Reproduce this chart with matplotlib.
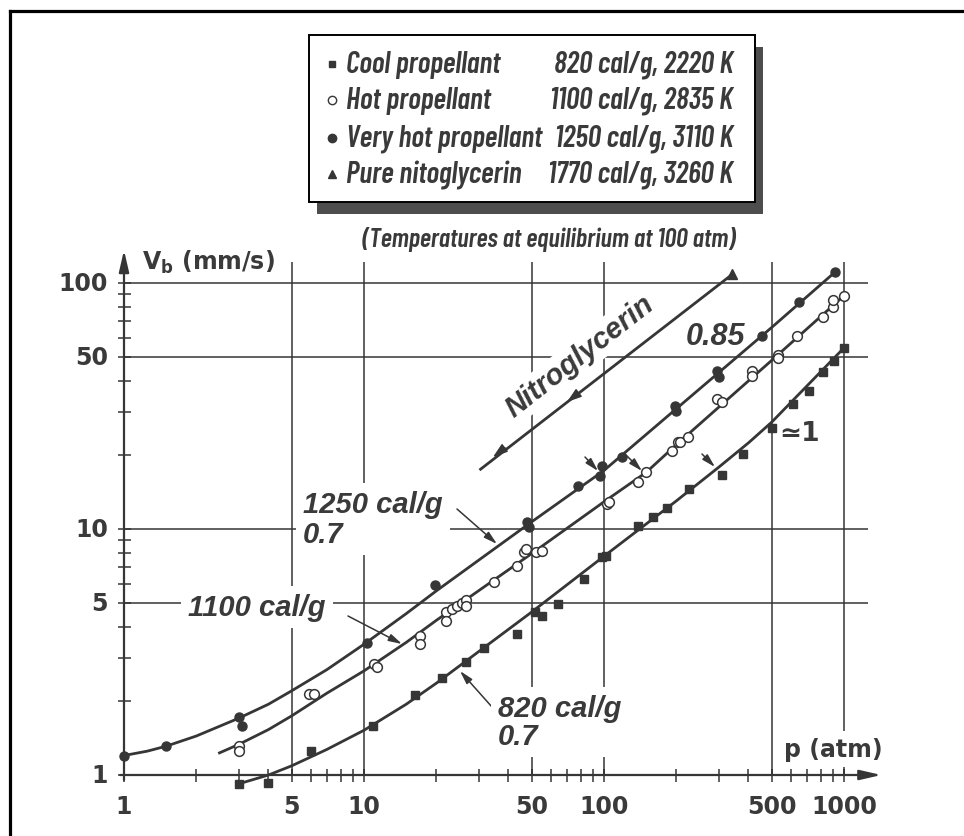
import matplotlib
matplotlib.use('Agg')
import matplotlib.pyplot as plt
from matplotlib import font_manager as fm
from matplotlib.patches import Rectangle
from matplotlib.lines import Line2D

# ---------------- data ----------------
very_hot_p = [1.0, 1.5, 3.0, 3.1, 10.3, 19.8, 48, 48.5, 78, 96, 98, 119, 197, 200, 296, 300, 456, 648, 915]
very_hot_v = [1.19, 1.31, 1.72, 1.58, 3.45, 5.9, 10.7, 10.2, 14.9, 16.4, 18.0, 19.6, 31.6, 30.2, 43.7, 41.5, 61, 83.7, 111]

hot_p = [3.0, 3.0, 5.9, 6.2, 11.0, 11.3, 17.1, 17.1, 21.9, 21.9, 23.2, 24.5, 25.6, 26.6, 26.6, 34.8, 43.3,
         46.5, 47.5, 52, 55, 103, 105, 138, 150, 192, 203, 207, 224, 296, 310, 415, 415, 531, 531, 640, 815,
         898, 898, 1000]
hot_v = [1.31, 1.25, 2.13, 2.13, 2.82, 2.75, 3.67, 3.40, 4.60, 4.23, 4.73, 4.85, 5.0, 5.14, 4.87, 6.08, 7.07,
         8.05, 8.3, 8.1, 8.15, 12.6, 12.9, 15.5, 17.1, 20.7, 22.5, 22.6, 23.7, 33.7, 32.8, 43.7, 41.9, 50.9, 49.6,
         61, 72.6, 80, 85, 88.8]

cool_p = [3.0, 4.0, 6.0, 10.9, 16.3, 21.2, 26.6, 31.5, 43.3, 51.5, 55, 64.3, 82.5, 98, 101.5, 139, 160, 183,
          226, 310, 381, 500, 612, 714, 815, 907, 1000]
cool_v = [0.92, 0.93, 1.25, 1.58, 2.11, 2.48, 2.88, 3.28, 3.74, 4.6, 4.43, 4.95, 6.25, 7.7, 7.8, 10.3, 11.2,
          12.2, 14.5, 16.6, 20.2, 25.8, 32.2, 36.3, 43.4, 48, 54.5]

nitro_p = [343]
nitro_v = [108.6]

# fitted curves
very_hot_curve_p = [1, 1.25, 1.5, 2, 3, 4, 5, 7, 10, 15, 20, 30, 50, 100, 200, 500, 920]
very_hot_curve_v = [1.2, 1.25, 1.31, 1.44, 1.70, 1.94, 2.2, 2.68, 3.4, 4.53, 5.6, 7.46, 10.7, 17.3, 30.8, 66, 111]
hot_curve_p = [2.5, 3, 4, 5, 7, 10, 15, 20, 50, 100, 150, 200, 500, 1000]
hot_curve_v = [1.23, 1.33, 1.53, 1.74, 2.15, 2.65, 3.46, 4.25, 7.95, 12.9, 17.0, 22.0, 48.5, 88.8]
cool_curve_p = [3.0, 4, 5, 7, 10, 15, 20, 50, 100, 200, 300, 400, 500, 1000]
cool_curve_v = [0.92, 1.0, 1.09, 1.27, 1.52, 1.94, 2.36, 4.6, 7.75, 13.0, 17.8, 22.4, 27.2, 54.5]
nitro_line_p = [30.6, 343]
nitro_line_v = [17.5, 108.6]

x_grid = [5, 10, 50, 100, 500, 1000]
y_grid = [5, 10, 50, 100]
x_major = [1, 5, 10, 50, 100, 500, 1000]
x_labels = ['1', '5', '10', '50', '100', '500', '1000']
y_major = [1, 5, 10, 50, 100]
y_labels = ['1', '5', '10', '50', '100']
minor = [2, 3, 4, 6, 7, 8, 9, 20, 30, 40, 60, 70, 80, 90, 200, 300, 400, 600, 700, 800, 900]
y_minor = [2, 3, 4, 6, 7, 8, 9, 20, 30, 40, 60, 70, 80, 90]

legend_names = ['Cool propellant', 'Hot propellant', 'Very hot propellant', 'Pure nitoglycerin']
legend_values = ['820 cal/g, 2220 K', '1100 cal/g, 2835 K', '1250 cal/g, 3110 K', '1770 cal/g, 3260 K']

# ---------------- figure ----------------
W, H = 964, 837
names = {f.name for f in fm.fontManager.ttflist}
NARROW = 'Barlow Condensed' if 'Barlow Condensed' in names else 'Liberation Sans'
SANS = 'Liberation Sans'
C = '#363636'
TC = '#3a3a3a'

fig = plt.figure(figsize=(W / 100, H / 100), dpi=100)
ax = fig.add_axes([0, 0, 1, 1])
ax.set_xscale('log')
ax.set_yscale('log')
X0, XD, Y0, YD = 124, 240, 776, 246
ax.set_xlim(10 ** (-X0 / XD), 10 ** ((W - X0) / XD))
ax.set_ylim(10 ** ((Y0 - H) / YD), 10 ** (Y0 / YD))
ax.axis('off')


def fp(px, py):
    return (px / W, 1 - py / H)


def pix(px, py):
    return (px, H - py)


# page frame (left and top)
fig.add_artist(Line2D([10 / W, 10 / W], [0, 1 - 12 / H], color='black', lw=2.3, transform=fig.transFigure))
fig.add_artist(Line2D([10 / W, 1], [1 - 12 / H, 1 - 12 / H], color='black', lw=2.3, transform=fig.transFigure))

# grid
ax.hlines(y_grid, 1, 1260, color=C, lw=1.1, zorder=1)
ax.vlines(x_grid, 1, 122, color=C, lw=1.1, zorder=1)

# axes with arrows
ax.annotate('', xy=(1430, 1), xytext=(0.965, 1),
            arrowprops=dict(arrowstyle='-|>,head_length=1.3,head_width=0.3', lw=1.6, color=C,
                            shrinkA=0, shrinkB=0), zorder=2)
ax.annotate('', xy=(1, 136), xytext=(1, 0.955),
            arrowprops=dict(arrowstyle='-|>,head_length=1.3,head_width=0.3', lw=1.6, color=C,
                            shrinkA=0, shrinkB=0), zorder=2)
tlo, thi = 10 ** (-7 / YD), 10 ** (6 / YD)
ax.vlines(x_major + minor, tlo, thi, color=C, lw=1.1, zorder=2)
ax.vlines(x_grid, 1, thi, color=C, lw=1.1, zorder=2)
ylo, yhi = 10 ** (-6 / XD), 10 ** (7 / XD)
ax.hlines(y_major + y_minor, ylo, yhi, color=C, lw=1.1, zorder=2)

tick_font = dict(family='DejaVu Sans', weight='bold', size=17, color=TC)
for v, lab in zip(x_major, x_labels):
    ax.annotate(lab, xy=(v, 1), xytext=(0, -31), textcoords='offset pixels', ha='center', va='center',
                **tick_font)
for v, lab in zip(y_major, y_labels):
    ax.annotate(lab, xy=(1, v), xytext=(-16, 0), textcoords='offset pixels', ha='right', va='center',
                **tick_font)

plt.rcParams['mathtext.default'] = 'regular'
fig.text(*fp(142, 262), r'V$_{\mathregular{b}}$ (mm/s)', ha='left', va='center', **tick_font)
fig.text(*fp(833, 750), 'p (atm)', ha='center', va='center', **tick_font,
         bbox=dict(facecolor='white', edgecolor='none', pad=4))

# curves
lw = 2.0
ax.plot(very_hot_curve_p, very_hot_curve_v, color=C, lw=lw, zorder=3)
ax.plot(hot_curve_p, hot_curve_v, color=C, lw=lw, zorder=3)
ax.plot(cool_curve_p, cool_curve_v, color=C, lw=lw, zorder=3)
ax.plot(nitro_line_p, nitro_line_v, color=C, lw=lw, zorder=3)

# data points
ax.plot(very_hot_p, very_hot_v, 'o', ms=6.5, color=C, mec=C, zorder=4)
ax.plot(hot_p, hot_v, 'o', ms=7, mfc='white', mec=C, mew=1.1, zorder=4)
ax.plot(cool_p, cool_v, 's', ms=5.5, color=C, mec=C, zorder=4)
ax.plot(nitro_p, nitro_v, '^', ms=7, color=C, zorder=4)

# arrowheads along nitroglycerin line (pointing down-left)
for (tx, ty) in [(493, 458), (567, 403)]:
    ax.annotate('', xy=pix(tx, ty), xycoords='figure pixels', xytext=pix(tx + 12, ty - 9.3),
                textcoords='figure pixels',
                arrowprops=dict(arrowstyle='-|>,head_length=0.9,head_width=0.3', lw=1.0, color=C,
                                shrinkA=0, shrinkB=0))

# annotation arrows
arr = dict(arrowstyle='-|>,head_length=0.8,head_width=0.22', lw=1.1, color=C, shrinkA=0, shrinkB=0)
for (a, b) in [((457, 510), (497, 545)), ((348, 617), (402, 645)), ((492, 708), (460, 672)),
               ((585, 458), (598, 472)), ((627, 457), (642, 472)), ((702, 455), (715, 468))]:
    ax.annotate('', xy=pix(*b), xycoords='figure pixels', xytext=pix(*a), textcoords='figure pixels',
                arrowprops=arr, zorder=5)

ann_font = dict(family=SANS, weight='bold', style='italic', size=21, color=TC)
box = dict(facecolor='white', edgecolor='none', pad=5)
fig.text(*fp(303, 520), '1250 cal/g\n0.7', ha='left', va='center', linespacing=1.05, bbox=box, **ann_font)
fig.text(*fp(188, 608), '1100 cal/g', ha='left', va='center', bbox=box, **ann_font)
fig.text(*fp(498, 723), '820 cal/g\n0.7', ha='left', va='center', linespacing=1.0, bbox=box, **ann_font)
fig.text(*fp(686, 337), '0.85', ha='left', va='center', **dict(ann_font, size=22))
fig.text(*fp(580, 357), 'Nitroglycerin', ha='center', va='center', rotation=38, rotation_mode='anchor',
         bbox=dict(facecolor='white', edgecolor='none', pad=2), **ann_font)
fig.text(*fp(779, 434), '\u22431', ha='left', va='center', **dict(tick_font, size=19))

# legend box
fig.add_artist(Rectangle(fp(317, 215), (763 - 317) / W, (215 - 48) / H, transform=fig.transFigure,
                         facecolor='#4d4d4d', edgecolor='none', zorder=5))
fig.add_artist(Rectangle(fp(309, 203), (755 - 309) / W, (203 - 36) / H, transform=fig.transFigure,
                         facecolor='white', edgecolor='black', lw=1.4, zorder=6))
leg_font = dict(family=NARROW, weight=600, style='italic', size=21.5, color=TC, zorder=7)
rows_y = [65, 101, 139, 175]
mk = [dict(marker='s', ms=5, mfc=C, mec=C), dict(marker='o', ms=6, mfc='white', mec=C, mew=1.0),
      dict(marker='o', ms=6, mfc=C, mec=C), dict(marker='^', ms=6, mfc=C, mec=C)]
for nm, val, ry, m in zip(legend_names, legend_values, rows_y, mk):
    fx, fy = fp(332, ry)
    fig.add_artist(Line2D([fx], [fy], transform=fig.transFigure, ls='none', zorder=7, **m))
    fig.text(*fp(346, ry), nm, ha='left', va='center', **leg_font)
    fig.text(*fp(733, ry), val, ha='right', va='center', **leg_font)

fig.text(*fp(735, 240), '(Temperatures at equilibrium at 100 atm)', ha='right', va='center',
         **dict(leg_font, size=19))

fig.savefig('out.png', dpi=100)
